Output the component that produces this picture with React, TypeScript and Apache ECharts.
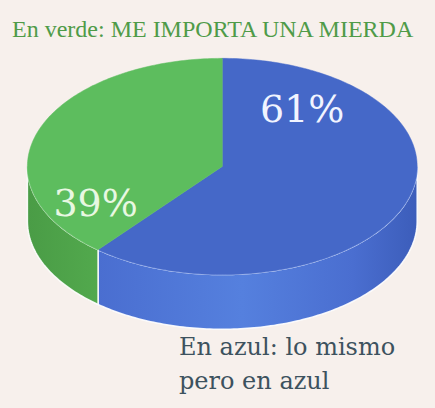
import React, { useEffect, useRef } from "react";
import * as echarts from "echarts";

const categories = ["En azul", "En verde"];
const values = [61, 39];
const topColors = ["#4568C8", "#5DBD5E"];
const titleText = "En verde: ME IMPORTA UNA MIERDA";
const footerLines = ["En azul: lo mismo", "pero en azul"];

export default function App() {
  const ref = useRef<HTMLDivElement>(null);
  useEffect(() => {
    document.body.style.margin = "0";
    const chart = echarts.init(ref.current!, null, { renderer: "svg" });
    const total = values.reduce((a, b) => a + b, 0);
    const starts: number[] = [];
    let acc = 0;
    values.forEach((v) => {
      starts.push((acc / total) * 360);
      acc += v;
    });
    const rad = (d: number) => (d * Math.PI) / 180;

    const renderItem = (params: any, api: any) => {
      const i = params.dataIndex;
      const W = api.getWidth();
      const H = api.getHeight();
      const cx = W * 0.511;
      const cy = H * 0.408;
      const rx = W * 0.448;
      const ry = H * 0.265;
      const h = H * 0.134;
      const a0 = starts[i];
      const a1 = starts[i] + (api.value(0) / total) * 360;
      const pt = (t: number, dy: number) => [
        cx + rx * Math.sin(rad(t)),
        cy - ry * Math.cos(rad(t)) + dy,
      ];
      const children: any[] = [];
      const s0 = Math.max(a0, 90);
      const s1 = Math.min(a1, 270);
      if (s1 > s0) {
        const pts: number[][] = [];
        const topEdge: number[][] = [];
        for (let t = s0; t <= s1; t += 1) pts.push(pt(t, 0));
        pts.push(pt(s1, 0));
        for (let t = s0; t <= s1; t += 1) topEdge.push(pt(t, 0));
        topEdge.push(pt(s1, 0));
        pts.push(pt(s1, h));
        for (let t = s1; t >= s0; t -= 1) pts.push(pt(t, h));
        pts.push(pt(s0, h));
        const fill =
          i === 0
            ? new echarts.graphic.LinearGradient(0, 0, 1, 0, [
                { offset: 0, color: "#4A6ED0" },
                { offset: 0.45, color: "#5580DE" },
                { offset: 0.8, color: "#4A6ED0" },
                { offset: 1, color: "#3C5DBA" },
              ])
            : new echarts.graphic.LinearGradient(0, 0, 1, 0, [
                { offset: 0, color: "#4A9C46" },
                { offset: 1, color: "#52A94D" },
              ]);
        children.push({
          type: "polygon",
          shape: { points: pts },
          style: { fill, stroke: "rgba(255,255,255,0.9)", lineWidth: 1.5 },
        });
        children.push({
          type: "polyline",
          shape: { points: topEdge },
          style: {
            fill: null,
            stroke: i === 0 ? "rgba(140,170,240,0.7)" : "rgba(140,210,140,0.6)",
            lineWidth: 1.2,
          },
        });
      }
      const tp: number[][] = [[cx, cy]];
      for (let t = a0; t <= a1; t += 1) tp.push(pt(t, 0));
      tp.push(pt(a1, 0));
      children.push({
        type: "polygon",
        shape: { points: tp },
        style: { fill: topColors[i], stroke: topColors[i], lineWidth: 0.5 },
      });
      const lp =
        i === 0
          ? [cx + rx * 0.41, cy - ry * 0.53]
          : [cx - rx * 0.65, cy + ry * 0.34];
      children.push({
        type: "text",
        x: lp[0],
        y: lp[1],
        style: {
          text: api.value(0) + "%",
          fill: i === 0 ? "#F1F4FF" : "#E8F8E2",
          font: "38px 'DejaVu Serif'",
          align: "center",
          verticalAlign: "middle",
        },
      });
      return { type: "group", children };
    };

    chart.setOption({
      animation: false,
      backgroundColor: "#F7F0EC",
      title: [
        {
          text: titleText,
          left: 7,
          top: 12,
          textStyle: {
            color: "#4F9B48",
            fontFamily: "Liberation Serif",
            fontSize: 24,
            fontWeight: "normal",
          },
        },
        {
          text: footerLines.join("\n"),
          left: 174,
          top: 325,
          textStyle: {
            color: "#3D525E",
            fontFamily: "DejaVu Serif",
            fontSize: 24,
            fontWeight: "normal",
            lineHeight: 34,
          },
        },
      ],
      series: [
        {
          type: "custom",
          coordinateSystem: "none",
          renderItem,
          data: values.map((v, k) => ({ name: categories[k], value: [v] })),
        },
      ],
    });
    return () => chart.dispose();
  }, []);
  return <div ref={ref} style={{ width: 435, height: 408 }} />;
}
